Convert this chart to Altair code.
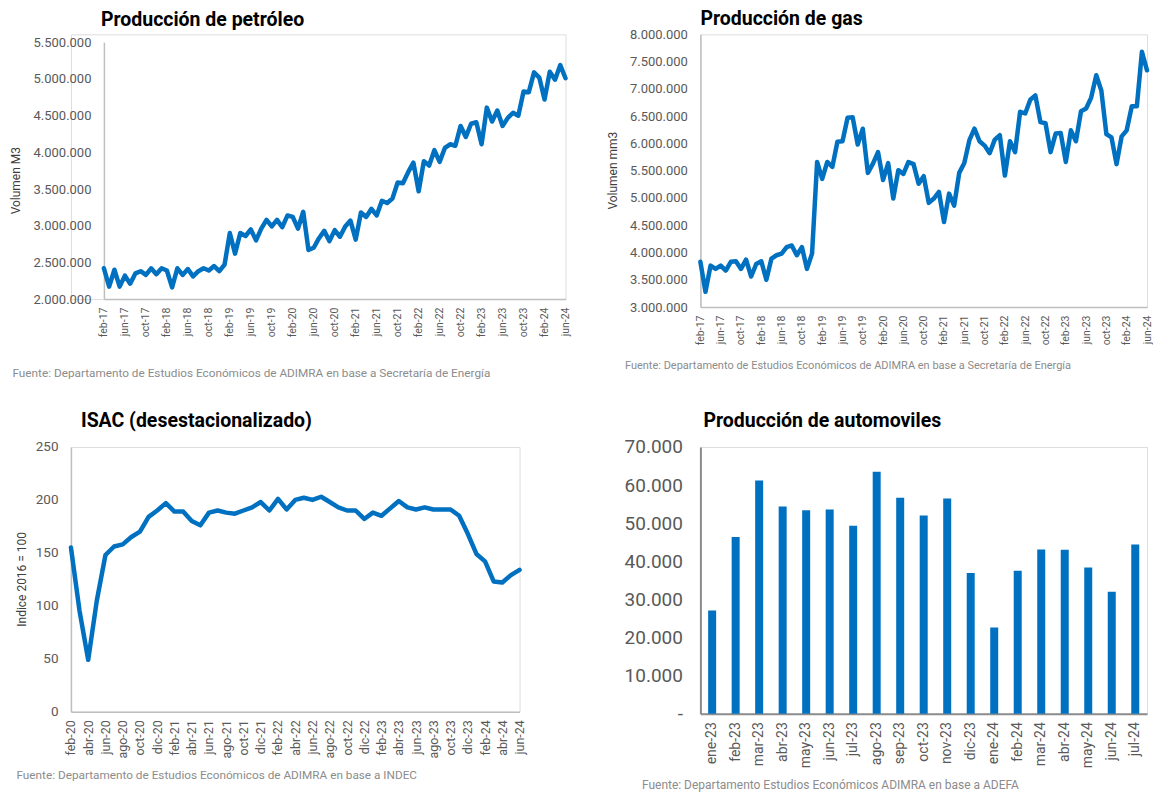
import altair as alt
import pandas as pd

MESES = ["ene", "feb", "mar", "abr", "may", "jun", "jul", "ago", "sep", "oct", "nov", "dic"]


def meses(m0, y0, n):
    out = []
    m, y = m0, y0
    for _ in range(n):
        out.append(f"{MESES[m - 1]}-{y:02d}")
        m += 1
        if m > 12:
            m, y = 1, y + 1
    return out


# Producción de petróleo (millones de m3), feb-17 .. jun-24
petroleo_mill = [
    2.42, 2.17, 2.40, 2.17, 2.32, 2.21, 2.35, 2.38, 2.33, 2.42,
    2.34, 2.42, 2.39, 2.16, 2.42, 2.33, 2.41, 2.31, 2.38, 2.42,
    2.39, 2.45, 2.38, 2.47, 2.90, 2.62, 2.90, 2.86, 2.95, 2.80,
    2.96, 3.08, 2.99, 3.08, 2.98, 3.14, 3.12, 2.96, 3.19, 2.67,
    2.70, 2.83, 2.93, 2.79, 2.94, 2.85, 2.99, 3.07, 2.81, 3.18,
    3.12, 3.23, 3.14, 3.34, 3.31, 3.37, 3.59, 3.58, 3.73, 3.86,
    3.47, 3.88, 3.82, 4.03, 3.87, 4.06, 4.11, 4.09, 4.36, 4.21,
    4.39, 4.41, 4.11, 4.61, 4.42, 4.57, 4.36, 4.47, 4.54, 4.50,
    4.83, 4.82, 5.09, 5.02, 4.72, 5.10, 4.99, 5.19, 5.01,
]

# Producción de gas (millones de mm3), feb-17 .. jun-24
gas_mill = [
    3.83, 3.28, 3.76, 3.70, 3.76, 3.67, 3.83, 3.84, 3.70, 3.87,
    3.56, 3.79, 3.84, 3.50, 3.89, 3.95, 3.98, 4.10, 4.13, 3.95,
    4.10, 3.70, 3.98, 5.66, 5.35, 5.66, 5.57, 6.03, 6.04, 6.47,
    6.48, 5.98, 6.27, 5.46, 5.63, 5.84, 5.33, 5.64, 4.99, 5.51,
    5.44, 5.66, 5.62, 5.26, 5.40, 4.91, 4.99, 5.11, 4.56, 5.08,
    4.86, 5.46, 5.64, 6.06, 6.27, 6.04, 5.96, 5.82, 6.07, 6.15,
    5.41, 6.04, 5.84, 6.58, 6.55, 6.80, 6.88, 6.39, 6.37, 5.84,
    6.18, 6.19, 5.66, 6.24, 6.04, 6.59, 6.64, 6.84, 7.25, 6.97,
    6.17, 6.11, 5.62, 6.13, 6.24, 6.68, 6.68, 7.68, 7.34,
]

# ISAC desestacionalizado (2016 = 100), feb-20 .. jun-24
isac = [
    155, 95, 49, 105, 148, 156, 158, 165, 170, 184,
    190, 197, 189, 189, 180, 176, 188, 190, 188, 187,
    190, 193, 198, 190, 201, 191, 200, 202, 200, 203,
    198, 193, 190, 190, 182, 188, 185, 192, 199, 193,
    191, 193, 191, 191, 191, 185, 168, 149, 142, 123,
    122, 129, 134,
]

# Producción de automóviles, ene-23 .. jul-24
autos = [
    27100, 46400, 61200, 54400, 53400, 53600, 49300, 63500, 56700, 52000,
    56500, 36900, 22600, 37500, 43100, 43000, 38400, 32000, 44400,
]

meses_pet = meses(2, 17, len(petroleo_mill))
meses_gas = meses(2, 17, len(gas_mill))
meses_isac = meses(2, 20, len(isac))
meses_autos = meses(1, 23, len(autos))

pet_df = pd.DataFrame({"mes": meses_pet, "valor": [v * 1e6 for v in petroleo_mill]})
gas_df = pd.DataFrame({"mes": meses_gas, "valor": [v * 1e6 for v in gas_mill]})
isac_df = pd.DataFrame({"mes": meses_isac, "valor": isac})
autos_df = pd.DataFrame({"mes": meses_autos, "valor": autos})

AZUL = "#0070C0"
FONT = "Roboto"
GRIS_LAB = "#595959"
GRIS_FUENTE = "#8C8C8C"
EJE = "#BFBFBF"
EJE_BARRAS = "#8C8C8C"
MILES = "replace(format(datum.value, ','), regexp(',', 'g'), '.')"
FUENTE_ENERGIA = "Fuente: Departamento de Estudios Económicos de ADIMRA en base a Secretaría de Energía"
FUENTE_INDEC = "Fuente: Departamento de Estudios Económicos de ADIMRA en base a INDEC"
FUENTE_ADEFA = "Fuente: Departamento Estudios Económicos ADIMRA en base a ADEFA"


def titulo(text, dx, offset):
    return alt.TitleParams(
        text, anchor="start", frame="group", dx=dx, offset=offset,
        fontSize=19.5, fontWeight="bold", font=FONT, color="black",
        baseline="alphabetic",
    )


def eje_x(values, fuente, tx, ty, lsize, pad, fsize, dom_color, dom_width):
    return alt.Axis(
        values=values, labelAngle=-90, labelFontSize=lsize, labelPadding=pad,
        labelColor=GRIS_LAB, labelFont=FONT,
        title=fuente, titleX=tx, titleY=ty, titleAlign="left", titleBaseline="middle",
        titleAngle=0, titleFontSize=fsize, titleFontWeight="normal",
        titleColor=GRIS_FUENTE, titleFont=FONT,
        ticks=False, grid=False, domainColor=dom_color, domainWidth=dom_width,
    )


def eje_y(values, expr, lsize, pad, title, tx, ty, dom_color, dom_width, offset=0):
    kw = dict(
        values=values, labelExpr=expr, labelFontSize=lsize, labelPadding=pad,
        labelColor=GRIS_LAB, labelFont=FONT, offset=offset,
        ticks=False, grid=False, domainColor=dom_color, domainWidth=dom_width,
    )
    if title:
        kw.update(
            title=title, titleX=tx, titleY=ty, titleAngle=270, titleAlign="center",
            titleBaseline="middle", titleFontSize=12, titleFontWeight="normal",
            titleColor="#404040", titleFont=FONT,
        )
    else:
        kw.update(title=None)
    return alt.Axis(**kw)


def linea(df, orden, paso, dominio, yvals, ytitle, ytx, yty, fuente, ftx, fty, fsize,
          w, h, tit, tdx, toff, ylsize=13, ypad=13, xlsize=10.5, xpad=8,
          xrange=None, yrange=None, yoff=0):
    xs = alt.Scale(type="point", padding=0) if xrange is None else \
        alt.Scale(type="point", padding=0, range=xrange)
    ys = alt.Scale(domain=dominio, nice=False, zero=False) if yrange is None else \
        alt.Scale(domain=dominio, nice=False, zero=False, range=yrange)
    return alt.Chart(df).mark_line(
        color=AZUL, strokeWidth=4.5, strokeJoin="round", strokeCap="round"
    ).encode(
        x=alt.X("mes:N", sort=orden, scale=xs,
                axis=eje_x(orden[::paso], fuente, ftx, fty, xlsize, xpad, fsize, EJE, 1.5)),
        y=alt.Y("valor:Q", scale=ys,
                axis=eje_y(yvals, MILES, ylsize, ypad, ytitle, ytx, yty, EJE, 1.5, yoff)),
    ).properties(width=w, height=h, title=titulo(tit, tdx, toff))


# Panel petróleo: grupo 70..565 x 34..299; área de datos desde x=103 e y=42
p1 = linea(pet_df, meses_pet, 4, [2000000, 5500000],
           list(range(2000000, 5500001, 500000)), "Volumen M3", -88, 146,
           FUENTE_ENERGIA, -59, 73, 11.8, 495, 265, "Producción de petróleo", 30, -11,
           xrange=[33, 495], yrange=[265, 8], yoff=-33)

p2 = linea(gas_df, meses_gas, 4, [3000000, 8000000],
           list(range(3000000, 8000001, 500000)), "Volumen mm3", -88, 136,
           FUENTE_ENERGIA, -76, 58, 11, 447, 273, "Producción de gas", 0, -16)

p3 = linea(isac_df, meses_isac, 2, [0, 250], list(range(0, 251, 50)),
           "Indice 2016 = 100", -49, 132, FUENTE_INDEC, -55, 63, 11.8,
           449, 265, "ISAC (desestacionalizado)", 10, -6.2,
           ylsize=13.5, ypad=13, xlsize=12.5, xpad=8)

p4 = alt.Chart(autos_df).mark_bar(color=AZUL).encode(
    x=alt.X("mes:N", sort=meses_autos,
            scale=alt.Scale(paddingInner=0.66, paddingOuter=0.33),
            axis=eje_x(meses_autos, FUENTE_ADEFA, -59, 71, 14, 8, 12, EJE_BARRAS, 2)),
    y=alt.Y("valor:Q", scale=alt.Scale(domain=[0, 70000], nice=False),
            axis=eje_y(list(range(0, 70001, 10000)),
                       "datum.value == 0 ? '-' : " + MILES, 19, 18, None, 0, 0,
                       EJE_BARRAS, 2)),
).properties(width=447, height=267, title=titulo("Producción de automoviles", 3, -8.7))

chart = alt.concat(
    p1, p2, p3, p4, columns=2, bounds="flush",
    spacing={"row": 140, "column": 135},
).properties(
    padding={"left": 1, "top": 0, "right": 0, "bottom": 0},
    background="white",
).configure_view(strokeWidth=0).configure(font=FONT)

chart.save("out.html", embed_options={"renderer": "svg", "actions": False})
